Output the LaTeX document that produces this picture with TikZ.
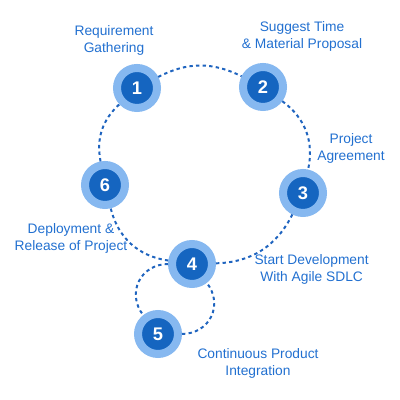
\documentclass[tikz,border=0pt]{standalone}
\usepackage{fontspec}
\setmainfont{Liberation Sans}
\definecolor{ringblue}{HTML}{86B8F0}
\definecolor{stepblue}{HTML}{1565C0}
\definecolor{textblue}{HTML}{2270D0}
\definecolor{pathblue}{HTML}{1F64BF}
\tikzset{
  stage/.style={circle, fill=stepblue, draw=ringblue, line width=0.2cm,
    minimum size=1cm, inner sep=0pt, text=white,
    font=\fontsize{13}{13}\selectfont\bfseries},
  caption/.style={align=center, text=textblue,
    font=\fontsize{9.8}{12.1}\selectfont},
  link/.style={draw=pathblue, line width=1.4pt, dash pattern=on 2.4pt off 2.3pt}
}
\begin{document}
\begin{tikzpicture}
    \useasboundingbox (0,0) rectangle (10,10);
    \node[stage] (A) at (3.425,7.8)   {1};
    \node[stage] (B) at (6.575,7.825) {2};
    \node[stage] (C) at (7.575,5.175) {3};
    \node[stage] (D) at (4.8,3.4)     {4};
    \node[stage] (E) at (3.95,1.65)   {5};
    \node[stage] (F) at (2.625,5.375) {6};

    \node[caption] (a) at (2.85,9.0)    {Requirement\\Gathering};
    \node[caption] (b) at (7.55,9.09)   {Suggest Time\\\& Material Proposal};
    \node[caption] (c) at (8.775,6.29)  {Project\\Agreement};
    \node[caption] (d) at (7.79,3.26)   {Start Development\\With Agile SDLC};
    \node[caption] (e) at (6.45,0.91)   {Continuous Product\\Integration};
    \node[caption] (f) at (1.775,4.05)  {Deployment \&\\Release of Project};

    \draw[link] (A) to[bend left=27] (B);
    \draw[link] (B) to[bend left=33] (C);
    \draw[link] (C) to[bend left=31] (D);
    \draw[link] (D) to[bend left=34] (F);
    \draw[link] (F) to[bend left=29] (A);
    \draw[link] (D) to[bend right=64, looseness=1.25] (E);
    \draw[link] (E) to[bend right=64, looseness=1.25] (D);
\end{tikzpicture}
\end{document}
